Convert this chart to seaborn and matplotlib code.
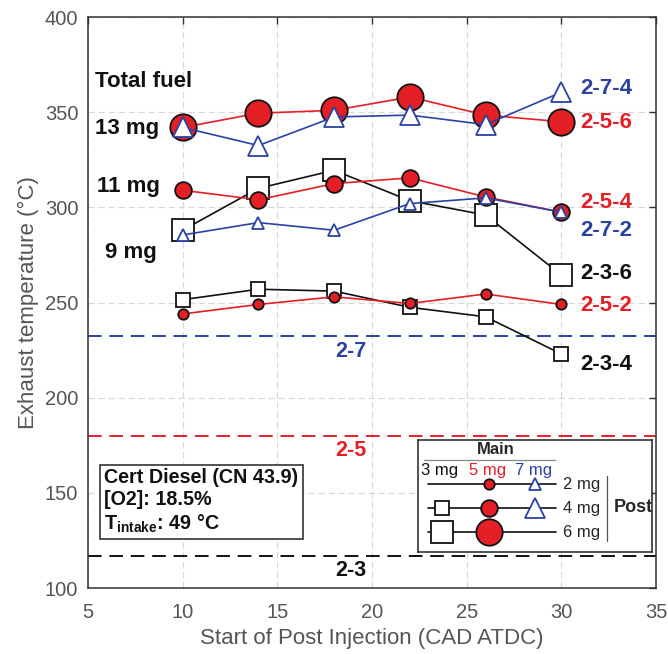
import matplotlib
matplotlib.use("Agg")
import matplotlib.pyplot as plt
import seaborn as sns
import pandas as pd

# Start of post injection (CAD ATDC)
soi = [10, 14, 18, 22, 26, 30]

# Exhaust temperature (°C) per pilot-main-post strategy
t_236 = [288, 310, 319.5, 303.5, 296, 264.5]
t_234 = [251.5, 257, 256, 247.5, 242.5, 223]
t_256 = [342, 349.5, 351, 358, 348.5, 345]
t_254 = [309, 304, 312.5, 315.5, 305.5, 297.5]
t_252 = [244, 249, 253, 249.5, 254.5, 249]
t_274 = [342, 332.5, 347.5, 348.5, 343.5, 360.5]
t_272 = [285.5, 292, 288, 302, 305, 297.5]

# Reference temperatures without post injection
base_labels = ["2-7", "2-5", "2-3"]
base_values = [232.5, 180, 117]

RED = "#e41f26"
BLUE = "#2b41a3"
BLACK = "#111111"
GRAY = "#555555"

sns.set_theme(style="white")
plt.rcParams["font.family"] = ["Liberation Sans", "DejaVu Sans"]
plt.rcParams["mathtext.fontset"] = "custom"
plt.rcParams["mathtext.rm"] = "Liberation Sans"
plt.rcParams["mathtext.bf"] = "Liberation Sans:bold"

fig = plt.figure(figsize=(6.68, 6.54), dpi=100)
ax = fig.add_axes([0.1317, 0.1009, 0.8503, 0.873])

# (values, color, marker, size, face, edge, zorder, label)
series = [
    (t_236, BLACK, "s", 16, "white", BLACK, 3, "2-3-6"),
    (t_234, BLACK, "s", 10, "white", BLACK, 3, "2-3-4"),
    (t_256, RED, "o", 19, RED, BLACK, 4, "2-5-6"),
    (t_254, RED, "o", 12, RED, BLACK, 4, "2-5-4"),
    (t_252, RED, "o", 7.5, RED, BLACK, 4, "2-5-2"),
    (t_274, BLUE, "^", 14, "white", BLUE, 5, "2-7-4"),
    (t_272, BLUE, "^", 8.5, "white", BLUE, 5, "2-7-2"),
]

for vals, col, mk, ms, fc, ec, z, lab in series:
    df = pd.DataFrame({"soi": soi, "T": vals})
    sns.lineplot(data=df, x="soi", y="T", ax=ax, color=col, lw=1.2,
                 marker=mk, markersize=ms, markerfacecolor=fc,
                 markeredgecolor=ec, markeredgewidth=1.3, zorder=z)

for lab, val, col in zip(base_labels, base_values, [BLUE, RED, BLACK]):
    ax.axhline(val, color=col, lw=1.4, dashes=(7, 4), zorder=2)
    ax.text(18.9, val - 8, lab, color=col, fontsize=15.5, fontweight="bold",
            ha="center", va="center")

# End-of-line strategy labels
end_labels = [("2-7-4", 362.5, BLUE), ("2-5-6", 344.5, RED),
              ("2-5-4", 302.5, RED), ("2-7-2", 288, BLUE),
              ("2-3-6", 265, BLACK), ("2-5-2", 248.5, RED),
              ("2-3-4", 217.5, BLACK)]
for txt, yv, col in end_labels:
    ax.text(31.0, yv, txt, color=col, fontsize=16, fontweight="bold",
            ha="left", va="center")

# Total fuel annotations
for txt, xv, yv in [("Total fuel", 5.35, 366), ("13 mg", 5.35, 341.5),
                    ("11 mg", 5.5, 311), ("9 mg", 5.9, 276.5)]:
    ax.text(xv, yv, txt, color=BLACK, fontsize=16, fontweight="bold",
            ha="left", va="center")

ax.text(5.85, 163.2,
        "Cert Diesel (CN 43.9)\n[O2]: 18.5%\n" + r"$\mathbf{T_{intake}}$" + ": 49 °C",
        fontsize=14.2, fontweight="bold", ha="left", va="top", linespacing=1.22,
        color=BLACK,
        bbox=dict(boxstyle="square,pad=0.22", fc="white", ec="#333333", lw=1.2),
        zorder=6)

ax.set_xlim(5, 35)
ax.set_ylim(100, 400)
ax.set_xticks(range(5, 36, 5))
ax.set_yticks(range(100, 401, 50))
ax.grid(True, color="#d8d8d8", ls=(0, (5, 3)), lw=0.9)
ax.set_axisbelow(True)
ax.tick_params(direction="in", length=5, width=1, top=True, right=True,
               labelsize=14.5, colors="#333333", labelcolor=GRAY)
ax.tick_params(axis="x", pad=11)
ax.tick_params(axis="y", pad=7)
for sp in ax.spines.values():
    sp.set_color("#333333")
    sp.set_linewidth(1.1)
ax.set_xlabel("Start of Post Injection (CAD ATDC)", fontsize=16, color=GRAY,
              labelpad=4)
ax.set_ylabel("Exhaust temperature (°C)", fontsize=16, color=GRAY, labelpad=4)

# Marker key: main injection (columns) vs post injection (rows)
lg = fig.add_axes([418 / 668, 1 - 552 / 654, 234 / 668, 112 / 654])
lg.set_xlim(0, 234)
lg.set_ylim(112, 0)
lg.set_xticks([])
lg.set_yticks([])
lg.set_facecolor("white")
for sp in lg.spines.values():
    sp.set_color("#333333")
    sp.set_linewidth(1.2)
lg.text(78, 9, "Main", fontsize=12, fontweight="bold", ha="center", va="center")
lg.plot([6, 137], [20, 20], color="#888888", lw=0.9)
lg.text(22, 31, "3 mg", fontsize=12, color=BLACK, ha="center", va="center")
lg.text(70, 31, "5 mg", fontsize=12, color=RED, ha="center", va="center")
lg.text(116, 31, "7 mg", fontsize=12, color=BLUE, ha="center", va="center")
rows = [(44, "2 mg", None, 7.5, 8.5), (68, "4 mg", 10, 12, 14),
        (92, "6 mg", 16, 19, None)]
for yy, txt, sq, ci, tr in rows:
    lg.plot([10, 138], [yy, yy], color=BLACK, lw=1.2, zorder=1)
    if sq:
        lg.plot([24], [yy], marker="s", ms=sq, mfc="white", mec=BLACK,
                mew=1.3, zorder=2)
    if ci:
        lg.plot([71], [yy], marker="o", ms=ci, mfc=RED, mec=BLACK,
                mew=1.3, zorder=2)
    if tr:
        lg.plot([117], [yy], marker="^", ms=tr, mfc="white", mec=BLUE,
                mew=1.3, zorder=2)
    lg.text(145, yy, txt, fontsize=12, ha="left", va="center")
lg.plot([189, 189], [36, 101], color="#555555", lw=0.9)
lg.text(196, 67, "Post", fontsize=13, fontweight="bold", ha="left", va="center")

fig.savefig("out.png", dpi=100)
